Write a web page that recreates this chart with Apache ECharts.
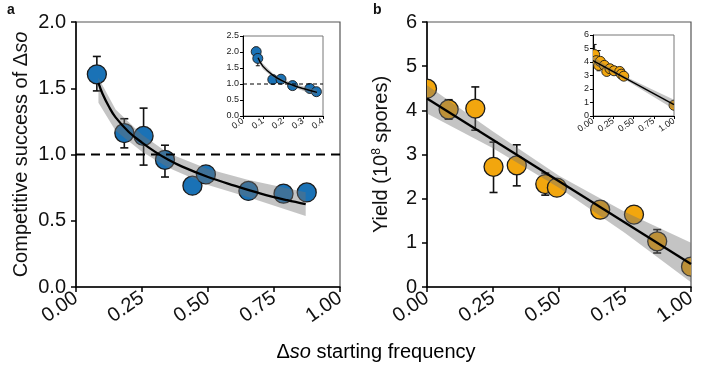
<!DOCTYPE html>
<html>
<head>
<meta charset="utf-8">
<script src="https://cdn.jsdelivr.net/npm/echarts@6/dist/echarts.min.js"></script>
<style>html,body{margin:0;padding:0;background:#fff}#c{width:703px;height:367px}</style>
</head>
<body>
<div id="c"></div>
<script>
// ---------- Panel a (main) ----------
const aXTicks = [0, 0.25, 0.5, 0.75, 1.0];
const aYTicks = [0, 0.5, 1.0, 1.5, 2.0];
const aX = [0.079, 0.183, 0.256, 0.337, 0.441, 0.492, 0.653, 0.786, 0.874];
const aY = [1.605, 1.162, 1.14, 0.96, 0.765, 0.85, 0.725, 0.704, 0.714];
const aErrX = [0.079, 0.183, 0.256, 0.337];
const aErrLo = [1.48, 1.05, 0.92, 0.83];
const aErrHi = [1.74, 1.27, 1.35, 1.07];
const aFitX = [0.085, 0.10, 0.125, 0.15, 0.20, 0.25, 0.30, 0.35, 0.40, 0.50, 0.60, 0.70, 0.80, 0.87];
const aFitY = [1.54, 1.46, 1.36, 1.28, 1.17, 1.09, 1.02, 0.96, 0.91, 0.83, 0.765, 0.705, 0.655, 0.625];
const aBandX = [0.085, 0.15, 0.25, 0.35, 0.50, 0.65, 0.87];
const aBandLo = [1.39, 1.18, 1.02, 0.90, 0.77, 0.68, 0.535];
const aBandHi = [1.58, 1.34, 1.15, 1.01, 0.89, 0.81, 0.715];
const aRefLine = 1.0;

// ---------- Panel a inset ----------
const iaXTicks = [0, 0.1, 0.2, 0.3, 0.4];
const iaYTicks = [0, 0.5, 1.0, 1.5, 2.0, 2.5];
const iaX = [0.066, 0.074, 0.149, 0.19, 0.248, 0.334, 0.367];
const iaY = [2.01, 1.80, 1.14, 1.15, 0.95, 0.86, 0.76];
const iaErrX = [0.066, 0.074];
const iaErrLo = [1.90, 1.57];
const iaErrHi = [2.15, 1.95];
const iaFitX = [0.075, 0.10, 0.15, 0.20, 0.25, 0.30, 0.37];
const iaFitY = [1.82, 1.55, 1.27, 1.09, 0.96, 0.86, 0.74];
const iaBandLo = [1.70, 1.46, 1.20, 1.03, 0.90, 0.79, 0.64];
const iaBandHi = [1.90, 1.63, 1.33, 1.15, 1.02, 0.93, 0.82];

// ---------- Panel b (main) ----------
const bXTicks = [0, 0.25, 0.5, 0.75, 1.0];
const bYTicks = [0, 1, 2, 3, 4, 5, 6];
const bX = [0.0, 0.082, 0.183, 0.252, 0.34, 0.448, 0.492, 0.656, 0.784, 0.872, 1.0];
const bY = [4.49, 4.02, 4.04, 2.72, 2.755, 2.33, 2.25, 1.75, 1.64, 1.035, 0.46];
const bErrX = [0.082, 0.183, 0.252, 0.34, 0.448, 0.872];
const bErrLo = [3.80, 3.55, 2.14, 2.29, 2.08, 0.77];
const bErrHi = [4.24, 4.53, 3.28, 3.22, 2.58, 1.30];
const bFitX = [0, 1.0];
const bFitY = [4.27, 0.52];
const bBandX = [0, 0.25, 0.5, 0.75, 1.0];
const bBandLo = [3.93, 3.14, 2.25, 1.22, 0.11];
const bBandHi = [4.57, 3.52, 2.52, 1.70, 1.00];

// ---------- Panel b inset ----------
const ibXTicks = [0, 0.25, 0.5, 0.75, 1.0];
const ibYTicks = [0, 1, 2, 3, 4, 5, 6];
const ibX = [0.02, 0.04, 0.07, 0.09, 0.14, 0.17, 0.21, 0.26, 0.33, 0.35, 0.38, 1.0];
const ibY = [4.55, 4.1, 3.75, 4.05, 3.75, 3.3, 3.5, 3.35, 3.3, 3.1, 2.95, 0.8];
const ibErrX = [0.02, 0.07];
const ibErrLo = [3.9, 3.35];
const ibErrHi = [5.3, 4.85];
const ibFitX = [0, 1.0];
const ibFitY = [4.1, 0.85];
const ibBandX = [0, 0.2, 0.4, 0.7, 1.0];
const ibBandLo = [3.8, 3.3, 2.68, 1.6, 0.5];
const ibBandHi = [4.4, 3.62, 2.92, 2.05, 1.2];

// ---------- Styles ----------
const FONT = '"Liberation Sans", Arial, Helvetica, sans-serif';
const BLUE = '#1a72b6';
const ORANGE = '#f2a60e';
const BAND = 'rgba(115,115,115,0.42)';

function axis(grid, ticks, big, fmtDigits, isX) {
  return {
    type: 'value', gridIndex: grid,
    min: ticks[0], max: ticks[ticks.length - 1], interval: ticks[1] - ticks[0],
    splitLine: {show: false},
    axisLine: {show: true, onZero: false, lineStyle: {color: '#000', width: big ? 1.5 : 1}},
    axisTick: {show: true, length: big ? 5 : 3, lineStyle: {color: '#000', width: big ? 1.5 : 1}},
    axisLabel: {
      fontFamily: FONT, fontSize: big ? 20 : 9, color: big ? '#111' : '#222',
      margin: big ? (isX ? 9 : 10) : (isX ? 4 : 4),
      rotate: isX ? 35 : 0,
      formatter: v => v.toFixed(fmtDigits)
    }
  };
}

function pointSeries(xi, yi, xs, ys, size, color, z) {
  return {
    type: 'custom', xAxisIndex: xi, yAxisIndex: yi, clip: true, z: z, silent: true,
    data: xs.map((x, i) => [x, ys[i]]),
    encode: {x: 0, y: 1},
    renderItem: (p, api) => {
      const c = api.coord([api.value(0), api.value(1)]);
      return {type: 'circle', shape: {cx: c[0], cy: c[1], r: size / 2},
        style: {fill: color, stroke: '#1b1b1b', lineWidth: size > 12 ? 1.3 : 0.9}};
    }
  };
}

function errSeries(xi, yi, xs, lo, hi, cap, w, z) {
  return {
    type: 'custom', xAxisIndex: xi, yAxisIndex: yi, clip: true, z: z, silent: true,
    data: xs.map((x, i) => [x, lo[i], hi[i]]),
    encode: {x: 0, y: [1, 2]},
    renderItem: (p, api) => {
      const a = api.coord([api.value(0), api.value(1)]);
      const b = api.coord([api.value(0), api.value(2)]);
      const st = {stroke: '#111', lineWidth: w};
      return {type: 'group', children: [
        {type: 'line', shape: {x1: a[0], y1: a[1], x2: b[0], y2: b[1]}, style: st},
        {type: 'line', shape: {x1: a[0] - cap, y1: a[1], x2: a[0] + cap, y2: a[1]}, style: st},
        {type: 'line', shape: {x1: b[0] - cap, y1: b[1], x2: b[0] + cap, y2: b[1]}, style: st}
      ]};
    }
  };
}

function bandSeries(xi, yi, xs, lo, hi, z) {
  return {
    type: 'custom', xAxisIndex: xi, yAxisIndex: yi, clip: true, z: z, silent: true,
    data: xs.map((x, i) => [x, lo[i], hi[i]]),
    encode: {x: 0, y: [1, 2]},
    renderItem: (p, api) => {
      if (p.dataIndex !== 0) return null;
      const pts = [];
      for (let i = 0; i < xs.length; i++) pts.push(api.coord([xs[i], hi[i]]));
      for (let i = xs.length - 1; i >= 0; i--) pts.push(api.coord([xs[i], lo[i]]));
      return {type: 'polygon', shape: {points: pts}, style: {fill: BAND}};
    }
  };
}

function lineSeries(xi, yi, xs, ys, w, smooth, z, dashed) {
  return {
    type: 'line', xAxisIndex: xi, yAxisIndex: yi, z: z, silent: true, clip: true,
    showSymbol: false, smooth: smooth, animation: false,
    data: xs.map((x, i) => [x, ys[i]]),
    lineStyle: {color: '#000', width: w, type: dashed ? dashed : 'solid'}
  };
}

const chart = echarts.init(document.getElementById('c'), null, {renderer: 'canvas'});
const rich = {
  n: {fontFamily: FONT, fontSize: 20, color: '#111'},
  i: {fontFamily: FONT, fontSize: 20, fontStyle: 'italic', color: '#111'},
  s: {fontFamily: FONT, fontSize: 12, color: '#111', verticalAlign: 'top', lineHeight: 20}
};

const option = {
  animation: false,
  backgroundColor: '#fff',
  grid: [
    {left: 76, top: 22, width: 264, height: 265, show: true, borderColor: '#555', borderWidth: 1.2, backgroundColor: 'transparent'},
    {left: 427, top: 22, width: 264, height: 265, show: true, borderColor: '#555', borderWidth: 1.2, backgroundColor: 'transparent'},
    {left: 243, top: 36, width: 80, height: 80, show: true, borderColor: '#777', borderWidth: 1, backgroundColor: 'transparent'},
    {left: 593, top: 35, width: 81, height: 81, show: true, borderColor: '#777', borderWidth: 1, backgroundColor: 'transparent'}
  ],
  xAxis: [
    axis(0, aXTicks, true, 2, true),
    axis(1, bXTicks, true, 2, true),
    axis(2, iaXTicks, false, 1, true),
    axis(3, ibXTicks, false, 2, true)
  ],
  yAxis: [
    Object.assign(axis(0, aYTicks, true, 1, false), {
      name: '{n|Competitive success of Δ}{i|so}', nameLocation: 'middle', nameGap: 45,
      nameTextStyle: {fontFamily: FONT, fontSize: 20, color: '#111', rich: rich}
    }),
    Object.assign(axis(1, bYTicks, true, 0, false), {
      name: '{n|Yield (10}{s|8}{n| spores)}', nameLocation: 'middle', nameGap: 36,
      nameTextStyle: {fontFamily: FONT, fontSize: 20, color: '#111', rich: rich}
    }),
    axis(2, iaYTicks, false, 1, false),
    axis(3, ibYTicks, false, 0, false)
  ],
  graphic: [
    {type: 'text', left: 7, top: 3, style: {text: 'a', font: 'bold 14px ' + FONT, fill: '#111'}},
    {type: 'text', left: 373, top: 3, style: {text: 'b', font: 'bold 14px ' + FONT, fill: '#111'}},
    {type: 'text', x: 376, y: 352, style: {text: '{n|Δ}{i|so}{n| starting frequency}', rich: rich, align: 'center', verticalAlign: 'middle'}}
  ],
  series: [
    // panel a
    errSeries(0, 0, aErrX, aErrLo, aErrHi, 4, 1.6, 2),
    pointSeries(0, 0, aX, aY, 19, BLUE, 3),
    bandSeries(0, 0, aBandX, aBandLo, aBandHi, 4),
    lineSeries(0, 0, aFitX, aFitY, 2.3, 0.4, 5),
    lineSeries(0, 0, [aXTicks[0], aXTicks[aXTicks.length - 1]], [aRefLine, aRefLine], 2, false, 5, [9, 6]),
    // panel b
    errSeries(1, 1, bErrX, bErrLo, bErrHi, 4, 1.6, 2),
    pointSeries(1, 1, bX, bY, 19, ORANGE, 3),
    bandSeries(1, 1, bBandX, bBandLo, bBandHi, 4),
    lineSeries(1, 1, bFitX, bFitY, 2.3, false, 5),
    // inset a
    errSeries(2, 2, iaErrX, iaErrLo, iaErrHi, 2, 1, 2),
    pointSeries(2, 2, iaX, iaY, 10, BLUE, 3),
    bandSeries(2, 2, iaFitX, iaBandLo, iaBandHi, 4),
    lineSeries(2, 2, iaFitX, iaFitY, 1.4, 0.4, 5),
    lineSeries(2, 2, [iaXTicks[0], iaXTicks[iaXTicks.length - 1]], [aRefLine, aRefLine], 1.2, false, 5, [4, 3]),
    // inset b
    errSeries(3, 3, ibErrX, ibErrLo, ibErrHi, 2, 1, 2),
    pointSeries(3, 3, ibX, ibY, 10, ORANGE, 3),
    bandSeries(3, 3, ibBandX, ibBandLo, ibBandHi, 4),
    lineSeries(3, 3, ibFitX, ibFitY, 1.4, false, 5)
  ]
};
chart.setOption(option);
</script>
</body>
</html>
